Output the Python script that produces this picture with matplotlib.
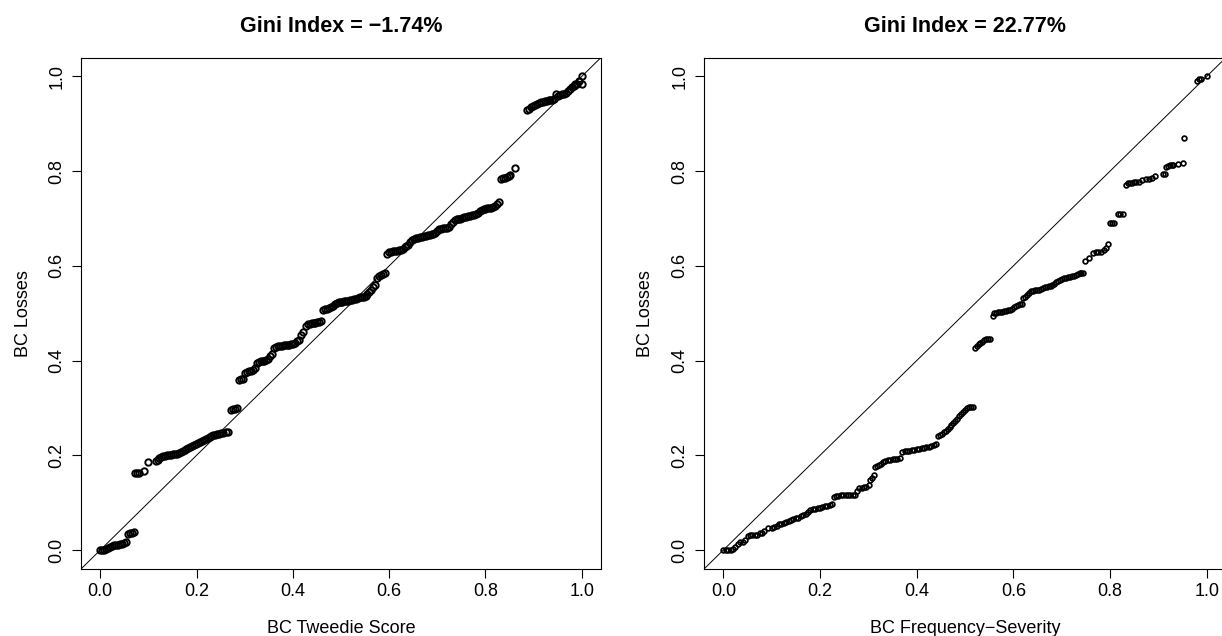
import matplotlib.pyplot as plt
import numpy as np

plt.rcParams['font.family'] = ['Liberation Sans', 'DejaVu Sans']

# ordered Lorenz curve, Tweedie score
tweedie_x = [
    0.000, 0.004, 0.008, 0.012, 0.016, 0.020, 0.024, 0.028, 0.032, 0.036, 0.040, 0.046, 0.050, 0.054,
    0.058, 0.062, 0.066, 0.070,
    0.072, 0.076, 0.080, 0.091, 0.100,
    0.115, 0.119, 0.123, 0.127, 0.131, 0.135, 0.139, 0.143, 0.147, 0.151, 0.155, 0.159, 0.163, 0.167,
    0.171, 0.175, 0.179, 0.183, 0.187, 0.191, 0.195, 0.199, 0.203, 0.207, 0.211, 0.215, 0.219, 0.223,
    0.227, 0.231, 0.235, 0.239, 0.243, 0.247, 0.251, 0.255, 0.262, 0.266,
    0.271, 0.275, 0.279, 0.283,
    0.289, 0.293, 0.297, 0.301, 0.305, 0.309, 0.313, 0.317, 0.321,
    0.325, 0.329, 0.333, 0.337, 0.341, 0.345, 0.349, 0.353, 0.357,
    0.361, 0.365, 0.369, 0.373, 0.377, 0.381, 0.385, 0.389, 0.393, 0.397, 0.401, 0.405, 0.409, 0.413,
    0.417, 0.421,
    0.427, 0.431, 0.435, 0.439, 0.443, 0.447, 0.451, 0.455, 0.459,
    0.463, 0.467, 0.471, 0.475, 0.479, 0.483, 0.487, 0.491, 0.495,
    0.499, 0.503, 0.507, 0.511, 0.515, 0.519, 0.523, 0.527, 0.531,
    0.535, 0.539, 0.543, 0.547, 0.551, 0.555, 0.559, 0.563, 0.567, 0.571, 0.575, 0.579, 0.583, 0.587, 0.591,
    0.596, 0.600, 0.604, 0.608, 0.612, 0.616, 0.620, 0.624, 0.628, 0.632, 0.636, 0.640, 0.644, 0.648,
    0.652, 0.656, 0.660, 0.664, 0.668, 0.672, 0.676, 0.680, 0.684, 0.688, 0.692, 0.696, 0.700, 0.704,
    0.708, 0.712, 0.716, 0.720, 0.724, 0.728, 0.732, 0.736, 0.740, 0.744, 0.748, 0.752, 0.756, 0.760,
    0.764, 0.768, 0.772, 0.776, 0.780, 0.784, 0.788, 0.792, 0.796, 0.800, 0.804, 0.808, 0.812, 0.816,
    0.820, 0.824, 0.828,
    0.832, 0.836, 0.840, 0.844, 0.848, 0.852, 0.862,
    0.887, 0.891, 0.895, 0.899, 0.903, 0.907, 0.911, 0.915, 0.919, 0.923, 0.927, 0.931, 0.935, 0.939,
    0.943, 0.947, 0.951, 0.955, 0.959, 0.963, 0.967, 0.971, 0.975, 0.979, 0.983, 0.987, 0.991, 0.995,
    1.000, 1.000,
]
tweedie_y = [
    0.000, 0.000, 0.001, 0.003, 0.005, 0.007, 0.009, 0.010, 0.011, 0.011, 0.012, 0.013, 0.015, 0.016,
    0.033, 0.035, 0.037, 0.038,
    0.162, 0.162, 0.163, 0.167, 0.186,
    0.189, 0.191, 0.195, 0.197, 0.198, 0.199, 0.200, 0.200, 0.201, 0.202, 0.202, 0.203, 0.205, 0.207,
    0.209, 0.211, 0.213, 0.216, 0.218, 0.219, 0.221, 0.223, 0.226, 0.229, 0.231, 0.233, 0.235, 0.237,
    0.239, 0.241, 0.242, 0.243, 0.245, 0.246, 0.247, 0.248, 0.249, 0.249,
    0.296, 0.297, 0.298, 0.299,
    0.360, 0.361, 0.362, 0.374, 0.377, 0.378, 0.379, 0.381, 0.384,
    0.395, 0.398, 0.399, 0.400, 0.400, 0.401, 0.404, 0.410, 0.415,
    0.427, 0.429, 0.430, 0.431, 0.431, 0.432, 0.432, 0.433, 0.434, 0.435, 0.436, 0.438, 0.441, 0.444,
    0.455, 0.460,
    0.474, 0.477, 0.478, 0.479, 0.479, 0.480, 0.481, 0.482, 0.484,
    0.507, 0.509, 0.510, 0.512, 0.514, 0.516, 0.520, 0.522, 0.524,
    0.524, 0.524, 0.525, 0.525, 0.526, 0.527, 0.528, 0.530, 0.531,
    0.533, 0.534, 0.535, 0.535, 0.536, 0.540, 0.545, 0.550, 0.555, 0.560, 0.575, 0.578, 0.580, 0.582, 0.584,
    0.626, 0.629, 0.630, 0.631, 0.631, 0.632, 0.633, 0.634, 0.636, 0.639, 0.641, 0.645, 0.650, 0.654,
    0.656, 0.658, 0.659, 0.660, 0.662, 0.663, 0.664, 0.665, 0.666, 0.667, 0.668, 0.670, 0.674, 0.677,
    0.678, 0.679, 0.680, 0.681, 0.683, 0.688, 0.693, 0.696, 0.698, 0.699, 0.700, 0.702, 0.703, 0.704,
    0.705, 0.706, 0.707, 0.708, 0.709, 0.712, 0.715, 0.718, 0.720, 0.721, 0.722, 0.722, 0.723, 0.724,
    0.727, 0.731, 0.734,
    0.784, 0.785, 0.785, 0.787, 0.790, 0.792, 0.806,
    0.929, 0.932, 0.936, 0.938, 0.940, 0.942, 0.944, 0.946, 0.947, 0.948, 0.949, 0.950, 0.950, 0.951,
    0.953, 0.963, 0.958, 0.960, 0.962, 0.963, 0.966, 0.970, 0.974, 0.978, 0.980, 0.983, 0.985, 0.990,
    1.000, 0.985,
]

# ordered Lorenz curve, frequency-severity score
freqsev_x = [
    0.000, 0.005, 0.010, 0.015, 0.020, 0.025, 0.030, 0.035, 0.040, 0.045, 0.050, 0.055, 0.060, 0.065,
    0.070, 0.075, 0.080, 0.085, 0.092, 0.100, 0.105, 0.110, 0.115, 0.120, 0.125, 0.130, 0.135, 0.140,
    0.145, 0.150, 0.155, 0.160, 0.165, 0.170, 0.175, 0.180, 0.185, 0.190, 0.195, 0.200, 0.205, 0.210,
    0.215, 0.220, 0.225,
    0.228, 0.233, 0.238, 0.243, 0.248, 0.253, 0.258, 0.263, 0.268, 0.273,
    0.277, 0.281, 0.286, 0.291, 0.296, 0.301, 0.303, 0.307, 0.311,
    0.314, 0.318, 0.322, 0.326, 0.330, 0.335, 0.340, 0.345, 0.350, 0.355, 0.360, 0.365,
    0.370, 0.375, 0.380, 0.385, 0.390, 0.395, 0.400, 0.405, 0.410, 0.415, 0.420, 0.425, 0.430, 0.435, 0.440,
    0.444, 0.448, 0.452, 0.456, 0.460, 0.464, 0.468, 0.472, 0.476, 0.480, 0.484, 0.488, 0.492, 0.496,
    0.500, 0.504, 0.508, 0.512, 0.516,
    0.520, 0.524, 0.528, 0.532, 0.536, 0.540, 0.544, 0.548, 0.552,
    0.557, 0.561, 0.565, 0.569, 0.573, 0.577, 0.581, 0.585, 0.589, 0.593, 0.597, 0.601, 0.605, 0.609,
    0.613, 0.617, 0.621, 0.625, 0.629, 0.633, 0.637, 0.641, 0.645, 0.649, 0.653, 0.657, 0.661, 0.665,
    0.669, 0.673, 0.677, 0.681, 0.685, 0.689, 0.693, 0.697, 0.701, 0.705, 0.709, 0.713, 0.717, 0.721,
    0.725, 0.729, 0.733, 0.737, 0.741, 0.745,
    0.749, 0.757, 0.765, 0.770, 0.776, 0.781, 0.788, 0.791, 0.795,
    0.801, 0.804, 0.808, 0.816, 0.820, 0.826,
    0.834, 0.838, 0.842, 0.846, 0.850, 0.854, 0.859, 0.866, 0.874, 0.881, 0.886, 0.893, 0.910, 0.913,
    0.916, 0.920, 0.924, 0.928, 0.931, 0.940, 0.952, 0.954,
    0.979, 0.984, 0.988, 1.000,
]
freqsev_y = [
    0.000, 0.000, 0.001, 0.001, 0.002, 0.006, 0.013, 0.016, 0.018, 0.021, 0.029, 0.031, 0.031, 0.031,
    0.032, 0.035, 0.037, 0.040, 0.046, 0.047, 0.048, 0.051, 0.055, 0.056, 0.057, 0.059, 0.061, 0.063,
    0.066, 0.067, 0.068, 0.071, 0.074, 0.077, 0.080, 0.084, 0.086, 0.087, 0.088, 0.089, 0.091, 0.092,
    0.094, 0.095, 0.097,
    0.113, 0.115, 0.115, 0.116, 0.116, 0.116, 0.116, 0.116, 0.117, 0.117,
    0.125, 0.130, 0.132, 0.133, 0.134, 0.137, 0.147, 0.152, 0.158,
    0.175, 0.178, 0.180, 0.182, 0.186, 0.189, 0.190, 0.191, 0.192, 0.193, 0.193, 0.194,
    0.208, 0.209, 0.210, 0.210, 0.211, 0.212, 0.213, 0.214, 0.215, 0.216, 0.217, 0.218, 0.220, 0.222, 0.224,
    0.240, 0.243, 0.246, 0.249, 0.252, 0.256, 0.260, 0.265, 0.269, 0.272, 0.276, 0.283, 0.288, 0.291,
    0.295, 0.300, 0.302, 0.303, 0.303,
    0.427, 0.430, 0.435, 0.438, 0.440, 0.443, 0.445, 0.446, 0.446,
    0.495, 0.500, 0.501, 0.502, 0.503, 0.503, 0.504, 0.505, 0.506, 0.507, 0.510, 0.514, 0.516, 0.518,
    0.519, 0.520, 0.532, 0.535, 0.539, 0.543, 0.546, 0.548, 0.549, 0.550, 0.550, 0.552, 0.553, 0.555,
    0.556, 0.557, 0.558, 0.560, 0.562, 0.565, 0.568, 0.571, 0.573, 0.574, 0.575, 0.576, 0.577, 0.578,
    0.578, 0.580, 0.582, 0.584, 0.585, 0.585,
    0.611, 0.617, 0.628, 0.629, 0.629, 0.630, 0.633, 0.637, 0.647,
    0.690, 0.690, 0.691, 0.709, 0.709, 0.710,
    0.771, 0.774, 0.775, 0.776, 0.777, 0.777, 0.778, 0.782, 0.783, 0.784, 0.785, 0.789, 0.793, 0.794,
    0.809, 0.810, 0.812, 0.813, 0.813, 0.815, 0.818, 0.869,
    0.991, 0.994, 0.995, 1.000,
]

ticks = [0.0, 0.2, 0.4, 0.6, 0.8, 1.0]
tick_labels = ['0.0', '0.2', '0.4', '0.6', '0.8', '1.0']


def draw_panel(ax, x, y, title, xlabel, ms, mew):
    ax.plot(x, y, linestyle='none', marker='o', markersize=ms,
            markerfacecolor='none', markeredgecolor='black', markeredgewidth=mew)
    ax.axline((0, 0), (1, 1), color='black', linewidth=0.7)
    ax.set_xlim(-0.04, 1.04)
    ax.set_ylim(-0.04, 1.04)
    ax.set_xticks(ticks)
    ax.set_xticklabels(tick_labels)
    ax.set_yticks(ticks)
    ax.set_yticklabels(tick_labels, rotation=90, va='center')
    ax.tick_params(direction='out', length=6.5, width=0.8, labelsize=13)
    ax.tick_params(axis='x', pad=3.5)
    ax.tick_params(axis='y', pad=4.5)
    for s in ax.spines.values():
        s.set_linewidth(0.8)
    ax.set_title(title, fontsize=15.5, fontweight='bold', pad=18.5)
    ax.set_xlabel(xlabel, fontsize=13)
    ax.set_ylabel('BC Losses', fontsize=13)
    ax.xaxis.set_label_coords(0.5, -0.1)
    ax.yaxis.set_label_coords(-0.095, 0.5)


fig = plt.figure(figsize=(12.22, 6.36), dpi=100)
ax1 = fig.add_axes([81 / 1222, 67 / 636, 520 / 1222, 511.5 / 636])
ax2 = fig.add_axes([704 / 1222, 67 / 636, 522 / 1222, 511.5 / 636])

draw_panel(ax1, tweedie_x, tweedie_y, 'Gini Index = \u22121.74%', 'BC Tweedie Score', 4.6, 1.4)
draw_panel(ax2, freqsev_x, freqsev_y, 'Gini Index = 22.77%', 'BC Frequency\u2212Severity', 3.4, 1.25)

fig.savefig('out.png', dpi=100)
